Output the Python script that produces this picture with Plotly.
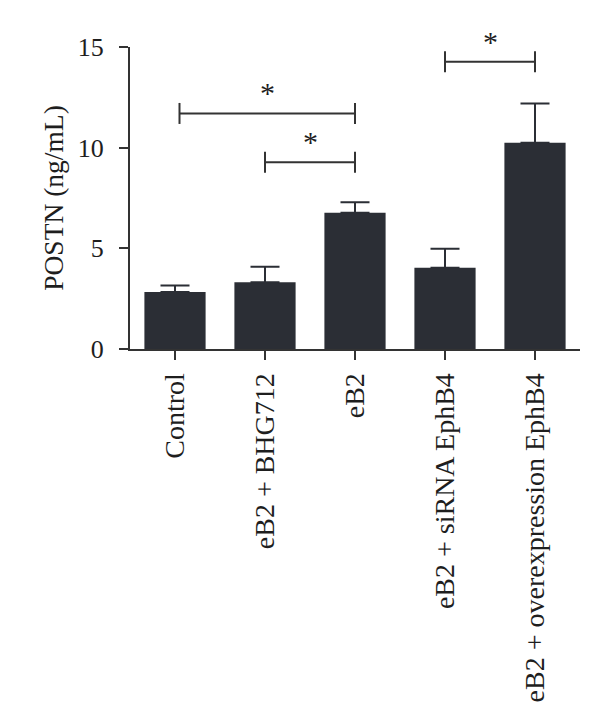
import plotly.graph_objects as go

groups = ['Control', 'eB2 + BHG712', 'eB2', 'eB2 + siRNA EphB4', 'eB2 + overexpression EphB4']
postn = [2.83, 3.31, 6.77, 4.04, 10.25]
postn_err = [0.33, 0.78, 0.52, 0.94, 1.94]

# significance brackets: start group, end group, height
sig_start = [0.05, 1, 3]
sig_end = [2, 2, 4]
sig_height = [11.7, 9.27, 14.27]
sig_label = ['*', '*', '*']

ink = '#2b2e35'
txt = '#1e1e1e'
serif = 'Liberation Serif'

pos = list(range(len(groups)))

fig = go.Figure()
fig.add_trace(go.Bar(x=pos, y=postn, width=0.68,
                     marker=dict(color=ink, line=dict(width=0)),
                     error_y=dict(type='data', array=postn_err,
                                  arrayminus=[0] * len(postn), symmetric=False,
                                  color=ink, thickness=2, width=14.5)))

for s, e, h, lab in zip(sig_start, sig_end, sig_height, sig_label):
    fig.add_trace(go.Scatter(x=[s, e], y=[h, h], mode='lines+markers',
                             line=dict(color='#333333', width=2),
                             marker=dict(symbol='line-ns', size=15,
                                         line=dict(color='#333333', width=2)),
                             cliponaxis=False, hoverinfo='skip'))
    fig.add_annotation(x=(s + e) / 2, y=h, text=lab, showarrow=False,
                       yanchor='bottom', yshift=2,
                       font=dict(family=serif, size=30, color=txt))

fig.update_layout(
    width=602, height=718,
    margin=dict(l=130, r=22, t=47, b=369),
    plot_bgcolor='white', paper_bgcolor='white',
    showlegend=False, font=dict(family=serif, size=26, color=txt),
)
fig.update_xaxes(range=[-0.5, 4.5], tickvals=pos, ticktext=groups,
                 tickangle=-90, ticks='outside', ticklen=9, tickwidth=2,
                 tickcolor='#333333', showline=True, linecolor='#333333',
                 linewidth=2, showgrid=False, zeroline=False,
                 tickfont=dict(size=28), ticklabelstandoff=2)
fig.update_yaxes(range=[0, 15], tickvals=[0, 5, 10, 15], ticks='outside',
                 ticklen=9, tickwidth=2, tickcolor='#333333', showline=True,
                 linecolor='#333333', linewidth=2, showgrid=False,
                 zeroline=False, tickfont=dict(size=26), ticklabelstandoff=10,
                 title=dict(text='POSTN (ng/mL)', standoff=6, font=dict(size=27.5)))

fig.write_html("out.html", config={'displayModeBar': False},
               post_script="document.body.style.margin='0';")
